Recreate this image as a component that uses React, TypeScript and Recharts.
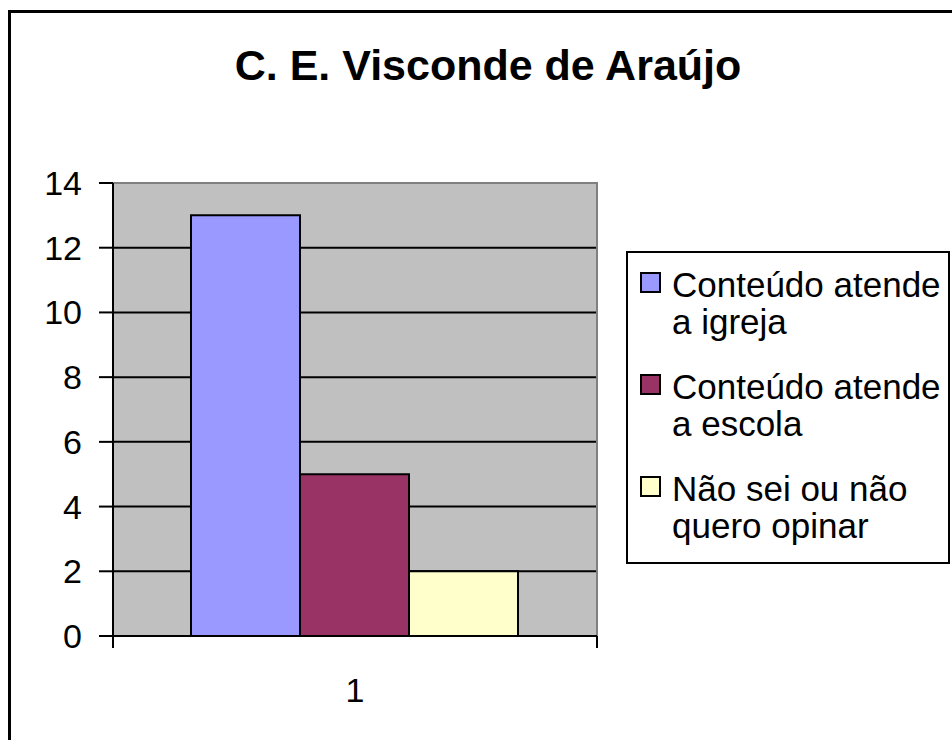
import React from "react";
import {
  BarChart,
  Bar,
  XAxis,
  YAxis,
  CartesianGrid,
  Legend,
  ReferenceArea,
} from "recharts";

const title = "C. E. Visconde de Araújo";
const categories = ["1"];
const seriesNames = [
  "Conteúdo atende a igreja",
  "Conteúdo atende a escola",
  "Não sei ou não quero opinar",
];
const seriesValues = [13, 5, 2];
const seriesColors = ["#9999FF", "#993366", "#FFFFCC"];
const legendLines = [
  ["Conteúdo atende", "a igreja"],
  ["Conteúdo atende", "a escola"],
  ["Não sei ou não", "quero opinar"],
];
const yTicks = [0, 2, 4, 6, 8, 10, 12, 14];

const data = categories.map((c) => {
  const row: Record<string, string | number> = { name: c };
  seriesValues.forEach((v, i) => {
    row["s" + i] = v;
  });
  return row;
});

const FONT = "'Liberation Sans', Arial, Helvetica, sans-serif";

const XTick = (props: any) => {
  const { x, y, payload } = props;
  const half = payload && typeof payload.offset === "number" ? payload.offset : 0;
  return (
    <g>
      <line x1={x - half} y1={y} x2={x - half} y2={y + 12} stroke="#000" strokeWidth={2} />
      <line x1={x + half} y1={y} x2={x + half} y2={y + 12} stroke="#000" strokeWidth={2} />
      <text
        x={x}
        y={y + 66}
        textAnchor="middle"
        fontFamily={FONT}
        fontSize={34}
        fill="#000"
      >
        {payload.value}
      </text>
    </g>
  );
};

const renderLegend = (props: any) => {
  const payload = [...(props.payload || [])]
    .map((entry: any) => ({ entry, idx: seriesNames.indexOf(String(entry.value)) }))
    .sort((a, b) => a.idx - b.idx);
  return (
    <svg width={330} height={315} style={{ display: "block" }}>
      <rect x={1} y={1} width={322} height={311} fill="#fff" stroke="#000" strokeWidth={2} />
      {payload.map(({ entry, idx }, i: number) => {
        const base = 46 + i * 102;
        const lines = legendLines[idx] || [String(entry.value)];
        return (
          <g key={i}>
            <rect
              x={15}
              y={base - 24}
              width={19}
              height={19}
              fill={seriesColors[idx] || entry.color}
              stroke="#000"
              strokeWidth={2}
            />
            {lines.map((ln, j) => (
              <text
                key={j}
                x={46}
                y={base + j * 37}
                fontFamily={FONT}
                fontSize={35}
                fill="#000"
              >
                {ln}
              </text>
            ))}
          </g>
        );
      })}
    </svg>
  );
};

export default function App() {
  return (
    <div
      style={{
        position: "fixed",
        left: 0,
        top: 0,
        width: 952,
        height: 740,
        overflow: "hidden",
        background: "#fff",
      }}
    >
      <div
        style={{
          position: "absolute",
          left: 8,
          top: 10,
          width: 1100,
          height: 900,
          border: "3px solid #000",
          boxSizing: "border-box",
        }}
      />
      <div style={{ position: "absolute", left: 0, top: 0 }}>
        <BarChart
          width={952}
          height={740}
          data={data}
          margin={{ top: 183, right: 355, bottom: 44, left: 33 }}
          barCategoryGap={78}
          barGap={0}
        >
          <CartesianGrid
            vertical={false}
            stroke="#000"
            strokeWidth={2}
            fill="#C0C0C0"
            fillOpacity={1}
          />
          <ReferenceArea
            y1={0}
            y2={14}
            fill="none"
            stroke="#808080"
            strokeWidth={2}
            ifOverflow="visible"
          />
          {seriesValues.map((_, i) => (
            <Bar
              key={i}
              dataKey={"s" + i}
              name={seriesNames[i]}
              fill={seriesColors[i]}
              stroke="#000"
              strokeWidth={2}
              isAnimationActive={false}
            />
          ))}
          <XAxis
            dataKey="name"
            height={60}
            axisLine={{ stroke: "#000", strokeWidth: 2 }}
            tickLine={false}
            tickSize={0}
            tickMargin={0}
            tick={<XTick />}
            interval={0}
          />
          <YAxis
            width={80}
            domain={[0, 14]}
            ticks={yTicks}
            interval={0}
            axisLine={{ stroke: "#000", strokeWidth: 2 }}
            tickLine={{ stroke: "#000", strokeWidth: 2 }}
            tickSize={14}
            tickMargin={17}
            tick={{ fill: "#000", fontSize: 34, fontFamily: FONT }}
          />
          <Legend
            layout="horizontal"
            verticalAlign="middle"
            align="center"
            wrapperStyle={{ left: 626, top: 251, width: 330, height: 315 }}
            content={renderLegend}
          />
        </BarChart>
      </div>
      <svg
        width={952}
        height={120}
        style={{ position: "absolute", left: 0, top: 0 }}
      >
        <text
          x={488}
          y={80}
          textAnchor="middle"
          fontFamily={FONT}
          fontWeight="bold"
          fontSize={43}
          fill="#000"
        >
          {title}
        </text>
      </svg>
    </div>
  );
}
